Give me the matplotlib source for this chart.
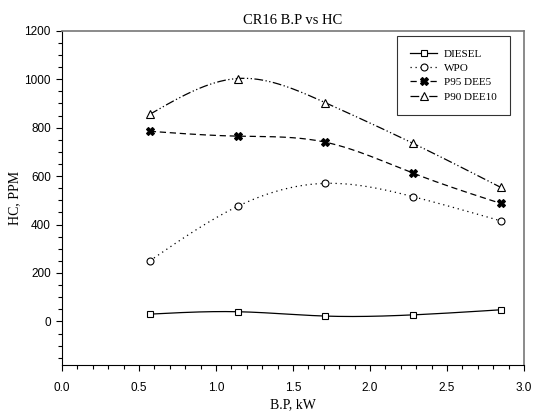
import numpy as np
import matplotlib.pyplot as plt
from matplotlib.ticker import MultipleLocator

bp = [0.57, 1.14, 1.71, 2.28, 2.85]
diesel = [30, 40, 22, 27, 48]
wpo = [250, 475, 570, 515, 415]
p95_dee5 = [785, 765, 740, 612, 487]
p90_dee10 = [855, 1003, 903, 735, 553]


def smooth(x, y, n=200):
    # natural cubic spline through the points, for the drawn curve only
    x = np.asarray(x, float)
    y = np.asarray(y, float)
    k = len(x)
    h = np.diff(x)
    A = np.zeros((k, k))
    b = np.zeros(k)
    A[0, 0] = A[-1, -1] = 1
    for i in range(1, k - 1):
        A[i, i - 1] = h[i - 1]
        A[i, i] = 2 * (h[i - 1] + h[i])
        A[i, i + 1] = h[i]
        b[i] = 6 * ((y[i + 1] - y[i]) / h[i] - (y[i] - y[i - 1]) / h[i - 1])
    m = np.linalg.solve(A, b)
    xs = np.linspace(x[0], x[-1], n)
    idx = np.clip(np.searchsorted(x, xs) - 1, 0, k - 2)
    x0, x1 = x[idx], x[idx + 1]
    hh = x1 - x0
    t1 = x1 - xs
    t0 = xs - x0
    ys = (m[idx] * t1 ** 3 / (6 * hh) + m[idx + 1] * t0 ** 3 / (6 * hh)
          + (y[idx] / hh - m[idx] * hh / 6) * t1
          + (y[idx + 1] / hh - m[idx + 1] * hh / 6) * t0)
    return xs, ys


serif = 'Liberation Serif'
sans = 'Liberation Sans'

fig = plt.figure(figsize=(5.36, 4.15), dpi=100)
ax = fig.add_axes([0.1157, 0.1205, 0.8620, 0.8053])

series = [
    ("DIESEL", diesel, '-', 's', 'white', 5),
    ("WPO", wpo, (0, (1, 3)), 'o', 'white', 5),
    ("P95 DEE5", p95_dee5, (0, (5, 3)), 'X', 'black', 5.5),
    ("P90 DEE10", p90_dee10, (0, (7, 2, 1, 2, 1, 2)), '^', 'white', 5.5),
]

for name, vals, ls, mk, fc, ms in series:
    xs, ys = smooth(bp, vals)
    ax.plot(xs, ys, color='black', linestyle=ls, linewidth=0.9)
    ax.plot(bp, vals, linestyle='none', marker=mk, markersize=ms,
            markerfacecolor=fc, markeredgecolor='black', markeredgewidth=0.8)
    ax.plot([], [], color='black', linestyle=ls, linewidth=0.9, marker=mk,
            markersize=ms, markerfacecolor=fc, markeredgecolor='black',
            markeredgewidth=0.8, label=name)

ax.set_xlim(0, 3.0)
ax.set_ylim(-180, 1200)
ax.xaxis.set_minor_locator(MultipleLocator(0.1))
ax.yaxis.set_minor_locator(MultipleLocator(50))
ax.set_xticks(np.arange(0, 3.01, 0.5))
ax.set_xticklabels(['%.1f' % v for v in np.arange(0, 3.01, 0.5)])
ax.set_yticks(np.arange(0, 1201, 200))
ax.tick_params(which='both', direction='out', top=False, right=False,
               labelsize=8.5)
ax.tick_params(which='major', length=4, width=0.8)
ax.tick_params(which='minor', length=3, width=0.8)
ax.tick_params(axis='x', which='major', pad=8)
ax.tick_params(axis='y', which='major', pad=4)
for lab in ax.get_xticklabels() + ax.get_yticklabels():
    lab.set_fontfamily(sans)
for sp in ['top', 'right']:
    ax.spines[sp].set_color('#777777')
    ax.spines[sp].set_linewidth(1.2)

ax.set_title("CR16 B.P vs HC", fontfamily=serif, fontsize=10.5, pad=5)
ax.set_xlabel("B.P, kW", fontfamily=serif, fontsize=10, labelpad=3)
ax.set_ylabel("HC, PPM", fontfamily=serif, fontsize=10, labelpad=2)

leg = ax.legend(loc='upper right', bbox_to_anchor=(0.976, 0.995),
                prop={'family': serif, 'size': 8}, frameon=True,
                fancybox=False, handlelength=2.4, borderpad=1.2,
                labelspacing=0.4, handletextpad=0.6, borderaxespad=0.3)
leg.get_frame().set_edgecolor('black')
leg.get_frame().set_linewidth(0.8)

fig.savefig('out.png', dpi=100)
